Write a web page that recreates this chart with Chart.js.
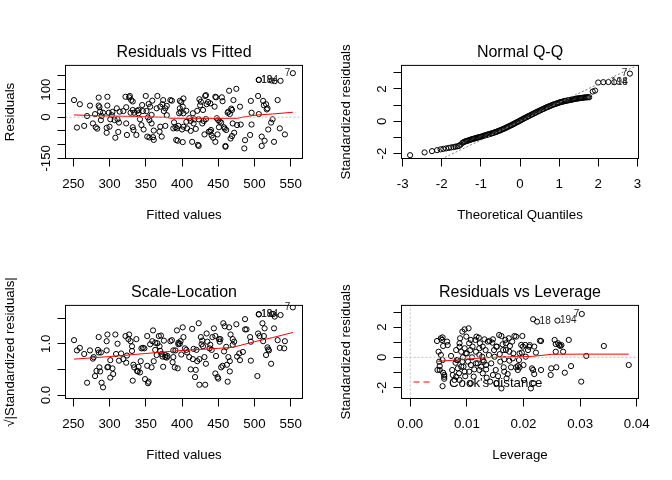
<!DOCTYPE html>
<html><head><meta charset="utf-8">
<script src="https://cdn.jsdelivr.net/npm/chart.js@4.4.1/dist/chart.umd.min.js"></script>
<style>
html,body{margin:0;padding:0;background:#fff;}
#wrap{position:relative;width:672px;height:480px;background:#fff;}
canvas{position:absolute;}
</style></head><body>
<div id="wrap">
<canvas id="c1" width="336" height="240" style="left:0;top:0"></canvas>
<canvas id="c2" width="336" height="240" style="left:336px;top:0"></canvas>
<canvas id="c3" width="336" height="240" style="left:0;top:240px"></canvas>
<canvas id="c4" width="336" height="240" style="left:336px;top:240px"></canvas>
</div>
<script>
// ---------- data ----------
const fitted1 = [251,255,259,265,269,273,277,280,281,283,285,285,286,287,288,289,291,296,296,297,297,299,301,303,304,307,308,310,311,312,313,319,322,323,323,324,327,328,330,332,332,332,333,334,337,338,340,342,345,346,347,350,351,352,353,354,355,358,359,360,361,365,366,369,370,372,373,374,375,377,377,379,379,384,386,388,389,391,392,394,395,397,397,398,399,400,401,402,402,406,407,410,412,414,415,416,417,419,421,422,423,423,424,425,426,428,429,430,431,433,433,434,436,437,439,440,441,443,445,446,447,448,449,450,451,454,455,456,458,459,460,460,461,464,465,466,467,468,469,469,471,472,475,476,480,481,486,487,494,495,496,505,506,506,506,510,510,512,514,516,517,518,519,523,524,527,528,532,536,535,542,553,
300,314,329,340,344,355,356,358,361,370,393,396,401,402,406,412,432,439,446,452,463,470,496,513,525];
const resid1 = [62,-38,47,-32,4,42,-23,11,-37,-42,71,42,36,20,-11,4,16,-39,-57,74,42,16,-8,7,19,-11,-75,32,-8,-54,-20,22,74,36,-23,-65,72,77,62,57,26,-37,-47,16,-65,23,14,-8,44,22,-45,77,22,-71,-1,48,-11,-23,60,-73,-49,32,77,-53,38,-71,47,62,22,-32,32,41,7,62,60,-41,-19,-37,-83,-86,-32,59,32,19,55,-45,-91,68,14,23,-41,-4,-14,-90,14,-23,-8,-43,23,-101,-105,-8,65,43,56,-23,26,-14,-63,80,-7,47,55,-53,50,-47,-67,-75,38,-90,72,-4,-63,-11,-37,-20,72,58,-37,-42,-105,-108,-47,20,96,11,-78,31,26,-69,62,-57,103,-29,38,-27,-114,-84,-65,59,-27,77,136,135,11,-71,-105,59,-86,47,28,32,-45,-20,133,-90,131,62,132,-41,-63,160,
-35,20,16,26,-29,-74,38,8,-83,-35,-41,14,38,-35,-17,-50,77,-53,74,-16,16,-23,16,43,-8];
const smooth1X = [251,287,342,379,383,405,440,476,488,504,525,553];
const smooth1Y = [8,4.5,2,-0.7,-4,-4.2,-4.5,-4.2,1.7,7.8,11.5,17.7];

const qqTheo = [-2.81,-2.44,-2.25,-2.12,-2.03,-1.96,-1.89,-1.82,-1.76,-1.70,-1.65,-1.60,-1.56,-1.52,
-1.47,-1.44,-1.41,-1.38,-1.35,-1.32,-1.29,-1.26,-1.23,-1.20,-1.17,-1.14,-1.11,-1.08,-1.05,-1.02,-0.99,-0.96,-0.93,-0.90,-0.87,-0.84,-0.81,-0.78,-0.75,-0.72,-0.69,-0.66,-0.63,-0.60,-0.57,-0.54,-0.51,-0.48,-0.45,-0.42,-0.39,-0.36,-0.33,-0.30,-0.27,-0.24,-0.21,-0.18,-0.15,-0.12,-0.09,-0.06,-0.03,0.00,0.03,0.06,0.09,0.12,0.15,0.18,0.21,0.24,0.27,0.30,0.33,0.36,0.39,0.42,0.45,0.48,0.51,0.54,0.57,0.60,0.63,0.66,0.69,0.72,0.75,0.78,0.81,0.84,0.87,0.90,0.93,0.96,0.99,1.02,1.05,1.08,1.11,1.14,1.17,1.20,1.23,1.26,1.29,1.32,1.35,1.38,1.41,1.44,1.47,1.50,1.53,1.56,1.59,1.62,1.65,1.68,1.71,1.74,1.77,
1.86,1.92,2.00,2.13,2.26,2.41,2.81];
const qqStd = [-2.10,-1.93,-1.85,-1.79,-1.74,-1.71,-1.68,-1.65,-1.62,-1.60,-1.57,-1.55,-1.52,-1.45,
-1.33,-1.30,-1.26,-1.23,-1.21,-1.19,-1.16,-1.14,-1.11,-1.09,-1.07,-1.05,-1.03,-1.01,-0.99,-0.97,-0.95,-0.93,-0.90,-0.88,-0.86,-0.83,-0.81,-0.79,-0.77,-0.75,-0.72,-0.70,-0.67,-0.65,-0.62,-0.59,-0.57,-0.53,-0.50,-0.47,-0.44,-0.40,-0.37,-0.33,-0.30,-0.26,-0.23,-0.19,-0.15,-0.11,-0.07,-0.04,0.00,0.04,0.08,0.12,0.16,0.20,0.23,0.27,0.31,0.34,0.38,0.42,0.45,0.49,0.53,0.56,0.60,0.63,0.67,0.70,0.74,0.77,0.80,0.84,0.87,0.90,0.93,0.96,0.99,1.02,1.05,1.07,1.10,1.12,1.15,1.17,1.19,1.21,1.23,1.25,1.26,1.28,1.29,1.31,1.32,1.34,1.35,1.37,1.38,1.40,1.41,1.42,1.43,1.44,1.45,1.46,1.47,1.48,1.48,1.49,1.49,
1.84,1.90,2.40,2.42,2.43,2.42,2.95];
const qqLineX = [-3.03,3.03];
const qqLineY = [-3.52,3.50];

const fitted3 = [251,255,259,265,269,273,277,280,282,284,285,285,286,287,288,289,291,296,296,297,297,301,304,305,308,309,311,313,319,322,323,324,326,327,329,331,331,332,333,334,337,338,339,342,343,346,348,349,352,352,353,354,356,358,359,360,361,363,365,368,369,370,371,372,373,374,375,377,379,384,386,387,388,390,391,393,394,395,397,398,399,401,402,404,406,407,410,412,414,415,418,419,420,421,423,424,424,426,427,428,429,431,432,433,434,435,438,439,441,442,444,446,446,447,449,450,451,452,454,456,457,458,459,461,462,463,464,465,466,466,467,470,472,475,476,479,480,487,487,494,495,495,504,505,506,506,511,512,514,516,518,519,520,523,524,526,527,528,532,536,535,542,553,
278,298,301,316,340,344,363,366,377,380,388,395,416,453,470,484,489,507,513,541];
const sqrtStd3 = [1.07,0.87,0.92,0.80,0.24,0.87,0.71,0.37,0.47,0.88,0.83,1.13,0.54,0.46,0.83,0.24,0.15,0.87,1.05,0.54,1.18,0.34,0.52,0.41,1.18,0.80,1.00,0.67,0.70,1.15,0.63,0.77,1.09,1.18,1.05,0.95,0.86,0.28,0.59,0.54,1.09,0.47,0.46,0.44,0.66,0.92,0.91,0.31,0.57,1.15,0.23,0.26,0.99,0.54,1.05,1.26,0.66,1.02,0.78,1.15,0.95,0.86,1.16,0.80,0.75,0.55,1.06,0.74,0.73,1.05,1.07,0.64,0.87,0.54,0.87,1.26,0.52,1.02,1.00,1.05,0.79,1.32,1.13,0.91,0.88,0.83,0.74,0.50,1.29,0.70,0.35,0.49,0.88,0.66,1.40,0.70,0.20,1.13,0.99,1.06,0.95,0.74,0.20,0.61,1.20,1.04,0.91,0.98,0.88,1.13,1.30,1.15,0.42,0.76,0.35,0.32,1.09,1.04,0.54,0.57,1.40,0.85,1.34,0.94,0.59,0.26,0.74,1.32,0.46,0.66,1.18,1.09,1.04,1.38,0.75,0.81,0.68,1.48,1.28,1.13,0.67,1.04,0.37,1.20,1.58,1.57,1.40,1.05,1.30,0.78,0.93,0.89,0.87,0.61,1.58,1.58,1.30,1.53,1.07,1.56,0.92,1.05,1.71,
0.74,0.55,0.68,0.81,0.55,0.91,0.88,1.01,0.78,0.76,0.74,0.99,0.90,1.09,0.98,0.84,1.28,1.15,1.15,0.91];
const smooth3X = [251,300,350,400,450,470,500,525,553];
const smooth3Y = [0.70,0.75,0.81,0.87,0.91,0.93,1.04,1.12,1.22];

const lev4 = [0.00472,0.0050,0.0051,0.0048,0.0052,0.0056,0.0057,0.0058,0.0057,0.0058,0.0060,0.0057,0.0060,0.0065,0.0066,0.0072,0.0074,0.0075,0.0078,0.0080,0.0081,0.0082,0.0084,0.0086,0.0087,0.0088,0.0090,0.0092,0.0092,0.0093,0.0094,0.0096,0.0096,0.0097,0.0099,0.0100,0.0102,0.0103,0.0104,0.0104,0.0106,0.0107,0.0107,0.0109,0.0110,0.0112,0.0113,0.0115,0.0116,0.0117,0.0119,0.0121,0.0122,0.0122,0.0123,0.0125,0.0127,0.0128,0.0128,0.0130,0.0131,0.0133,0.0134,0.0135,0.0137,0.0139,0.0140,0.0141,0.0143,0.0145,0.0146,0.0148,0.0149,0.0151,0.0152,0.0153,0.0155,0.0157,0.0158,0.0159,0.0161,0.0161,0.0163,0.0164,0.0165,0.0166,0.0166,0.0168,0.0169,0.0170,0.0172,0.0174,0.0175,0.0175,0.0176,0.0178,0.0180,0.0181,0.0182,0.0184,0.0187,0.0187,0.0190,0.0192,0.0193,0.0196,0.0197,0.0198,0.0199,0.0200,0.0201,0.0204,0.0208,0.0211,0.0213,0.0215,0.0217,0.0218,0.0219,0.0217,0.0224,0.0222,0.0231,0.0231,0.0248,0.0249,0.0255,0.0257,0.0258,0.0260,0.0261,0.0265,0.0267,0.0270,0.0273,0.0280,0.0284,0.0302,0.0303,0.0311,0.0342,0.0386,0.0203,0.0210,0.0229,0.0257,0.0263,0.0219,
0.0054,0.0054,0.0052,0.0060,0.0087,0.0098,0.0084,0.0090,0.0096,0.0081,0.0087,0.0122,0.0128,0.0134,0.0146,0.0116,0.0107,0.0152,0.0169,0.0193,0.0190];
const std4 = [1.08,0.37,-0.29,-0.84,-0.58,1.15,1.32,0.75,-0.18,-1.02,-1.29,-1.91,-1.42,1.04,0.81,0.09,-0.84,-1.17,-1.50,-0.36,0.48,-0.18,-0.73,-1.06,0.93,1.26,0.37,1.70,-0.29,0.00,-0.62,1.85,0.60,-1.25,1.37,0.26,-0.29,1.92,0.93,-0.95,0.48,1.15,-0.51,0.00,0.71,-1.28,-0.80,1.15,0.37,1.37,-0.40,1.30,0.60,-0.84,0.93,-0.62,0.04,0.71,-1.06,-0.29,1.19,0.48,-0.80,-1.35,1.04,0.15,1.08,-1.61,-0.40,0.97,1.19,0.48,0.04,-0.84,-1.72,0.71,-1.25,1.48,0.21,-0.29,1.41,-2.06,0.86,0.48,-0.66,-0.95,-0.13,1.15,0.93,-1.39,-1.11,1.26,0.37,-0.22,0.75,-0.66,1.04,-0.07,0.26,1.41,1.37,-0.66,-0.58,-0.18,-0.66,0.82,0.31,1.41,0.71,-0.51,-1.50,0.04,0.48,0.81,-2.06,-0.73,-0.84,-1.72,0.71,2.52,2.36,0.31,1.08,-0.84,-1.17,-0.73,1.15,0.37,-0.66,2.43,0.93,0.75,0.81,0.37,-1.02,1.15,-0.58,-1.61,2.87,0.09,0.75,-0.51,0.82,0.70,1.10,0.88,0.82,-1.11,
1.26,0.16,-0.84,-1.17,0.70,0.26,-0.18,-0.62,-0.95,-1.28,-1.50,0.16,-0.18,-0.51,-1.17,-0.40,-1.72,0.70,0.48,0.26,-0.84];
const smooth4X = [0.0048,0.0065,0.0081,0.0100,0.0116,0.0135,0.0151,0.0175,0.0197,0.0215,0.0250,0.0300,0.0386];
const smooth4Y = [-0.27,-0.22,-0.18,-0.12,-0.07,-0.03,0.00,0.03,0.05,0.06,0.20,0.21,0.21];

const xTicks1 = [250,300,350,400,450,500,550];
const xTickLabels1 = ['250','300','350','400','450','500','550'];
const yTicks1 = [-150,-100,-50,0,50,100,150];
const yTickLabels1 = [[-150,'-150'],[0,'0'],[100,'100']];
const xTicks2 = [-3,-2,-1,0,1,2,3];
const xTickLabels2 = ['-3','-2','-1','0','1','2','3'];
const yTicks2 = [-2,-1,0,1,2,3];
const yTickLabels2 = [[-2,'-2'],[0,'0'],[2,'2']];
const yTicks3 = [0,0.5,1,1.5];
const yTickLabels3 = [[0,'0.0'],[1,'1.0']];
const xTicks4 = [0,0.01,0.02,0.03,0.04];
const xTickLabels4 = ['0.00','0.01','0.02','0.03','0.04'];
const yTicks4 = [-2,-1,0,1,2,3];
const yTickLabels4 = [[-2,'-2'],[0,'0'],[2,'2']];

// ---------- helpers ----------
const FONT = "'Liberation Sans', Arial, sans-serif";
const pts = (xs, ys) => xs.map((x, i) => ({x: x, y: ys[i]}));

const rPlugin = {
  id: 'rstyle',
  afterDraw(chart) {
    const o = chart.options.plugins.rstyle;
    const ctx = chart.ctx, a = chart.chartArea;
    const xs = chart.scales.x, ys = chart.scales.y;
    ctx.save();
    ctx.strokeStyle = '#000'; ctx.lineWidth = 1; ctx.setLineDash([]);
    ctx.strokeRect(a.left, a.top, a.right - a.left, a.bottom - a.top);
    ctx.fillStyle = '#000';
    ctx.font = '13.3px ' + FONT;
    ctx.textAlign = 'center'; ctx.textBaseline = 'middle';
    o.yLabels.forEach(function (p) {
      ctx.save();
      ctx.translate(a.left - 19.5, ys.getPixelForValue(p[0]));
      ctx.rotate(-Math.PI / 2);
      ctx.fillText(p[1], 0, 0);
      ctx.restore();
    });
    ctx.font = '10px ' + FONT;
    ctx.fillStyle = '#222';
    (o.ids || []).forEach(function (p) {
      const px = xs.getPixelForValue(p.x), py = ys.getPixelForValue(p.y);
      if (p.pos === 'l') { ctx.textAlign = 'right'; ctx.fillText(p.t, px - 2.5, py); }
      else { ctx.textAlign = 'left'; ctx.fillText(p.t, px + 2.5, py); }
    });
    if (o.cook) {
      ctx.strokeStyle = '#FF0000'; ctx.setLineDash([6, 4]);
      ctx.beginPath(); ctx.moveTo(a.left + 12, a.bottom - 16.5); ctx.lineTo(a.left + 32, a.bottom - 16.5); ctx.stroke();
      ctx.setLineDash([]);
      ctx.fillStyle = '#000'; ctx.font = '13.3px ' + FONT; ctx.textAlign = 'left';
      ctx.fillText("Cook's distance", a.left + 47.5, a.bottom - 15);
    }
    ctx.restore();
  }
};

function makeChart(id, c) {
  const datasets = [];
  (c.lines || []).forEach(function (l, i) {
    datasets.push({type: 'scatter', data: l.data, showLine: true, borderColor: l.color, borderWidth: 1,
      borderDash: l.dash || [], pointRadius: 0, tension: 0, order: i, fill: false});
  });
  datasets.push({type: 'scatter', data: c.points, pointStyle: 'circle', pointRadius: 2.6, borderWidth: 1,
    borderColor: '#000', backgroundColor: 'rgba(0,0,0,0)', order: 10});
  return new Chart(document.getElementById(id), {
    type: 'scatter',
    data: {datasets: datasets},
    options: {
      responsive: false, animation: false, events: [], devicePixelRatio: 1,
      layout: {padding: {left: 0, right: 33.5, top: 0, bottom: 0}, autoPadding: false},
      plugins: {
        legend: {display: false}, tooltip: {enabled: false},
        title: {display: true, text: c.title, fullSize: false, color: '#000',
          font: {family: FONT, size: 16, weight: 'normal', lineHeight: 1.2}, padding: {top: 43.1, bottom: 3.1}},
        rstyle: {yLabels: c.yLabels, ids: c.ids, cook: c.cook}
      },
      scales: {
        x: {type: 'linear', position: 'bottom', min: c.xMin, max: c.xMax,
          afterBuildTicks: function (s) { s.ticks = c.xTicks.map(function (v) { return {value: v}; }); },
          afterFit: function (s) { s.height = 81.5; },
          grid: {display: true, drawOnChartArea: false, drawTicks: true, tickLength: 8, tickColor: '#000', tickWidth: 1},
          border: {display: false},
          ticks: {color: '#000', font: {family: FONT, size: 13.3}, padding: 9.8, maxRotation: 0, minRotation: 0, autoSkip: false,
            callback: function (v, i) { return c.xTickLabels[i]; }},
          title: {display: true, text: c.xTitle, color: '#000', font: {family: FONT, size: 13.3}, padding: {top: 0, bottom: 17}}
        },
        y: {type: 'linear', position: 'left', min: c.yMin, max: c.yMax,
          afterBuildTicks: function (s) { s.ticks = c.yTicks.map(function (v) { return {value: v}; }); },
          afterFit: function (s) { s.width = 65.5; },
          grid: {display: true, drawOnChartArea: false, drawTicks: true, tickLength: 8, tickColor: '#000', tickWidth: 1},
          border: {display: false},
          ticks: {display: false},
          title: {display: true, text: c.yTitle, color: '#000', font: {family: FONT, size: 13.3}, padding: {top: 2, bottom: 0}}
        }
      }
    },
    plugins: [rPlugin]
  });
}

makeChart('c1', {
  title: 'Residuals vs Fitted', xTitle: 'Fitted values', yTitle: 'Residuals',
  xMin: 239.2, xMax: 566.3, yMin: -150.7, yMax: 188.3,
  xTicks: xTicks1, xTickLabels: xTickLabels1, yTicks: yTicks1, yLabels: yTickLabels1,
  points: pts(fitted1, resid1),
  lines: [{data: pts([239.2, 566.3], [0, 0]), color: '#BEBEBE', dash: [2, 2]},
          {data: pts(smooth1X, smooth1Y), color: '#FF0000'}],
  ids: [{x: 553, y: 160, t: '7', pos: 'l'}, {x: 506, y: 136, t: '194', pos: 'r'}, {x: 506, y: 135, t: '18', pos: 'r'}]
});

makeChart('c2', {
  title: 'Normal Q-Q', xTitle: 'Theoretical Quantiles', yTitle: 'Standardized residuals',
  xMin: -3.03, xMax: 3.03, yMin: -2.306, yMax: 3.459,
  xTicks: xTicks2, xTickLabels: xTickLabels2, yTicks: yTicks2, yLabels: yTickLabels2,
  points: pts(qqTheo, qqStd),
  lines: [{data: pts(qqLineX, qqLineY), color: '#7F7F7F', dash: [2, 2]}],
  ids: [{x: 2.81, y: 2.95, t: '7', pos: 'l'}, {x: 2.26, y: 2.43, t: '194', pos: 'r'}, {x: 2.41, y: 2.42, t: '18', pos: 'r'}]
});

makeChart('c3', {
  title: 'Scale-Location', xTitle: 'Fitted values', yTitle: '\u221A|Standardized residuals|',
  xMin: 239.2, xMax: 566.3, yMin: -0.068, yMax: 1.748,
  xTicks: xTicks1, xTickLabels: xTickLabels1, yTicks: yTicks3, yLabels: yTickLabels3,
  points: pts(fitted3, sqrtStd3),
  lines: [{data: pts(smooth3X, smooth3Y), color: '#FF0000'}],
  ids: [{x: 553, y: 1.71, t: '7', pos: 'l'}, {x: 506, y: 1.58, t: '194', pos: 'r'}, {x: 506, y: 1.57, t: '18', pos: 'r'}]
});

makeChart('c4', {
  title: 'Residuals vs Leverage', xTitle: 'Leverage', yTitle: 'Standardized residuals',
  xMin: -0.001555, xMax: 0.04032, yMin: -2.727, yMax: 3.437,
  xTicks: xTicks4, xTickLabels: xTickLabels4, yTicks: yTicks4, yLabels: yTickLabels4,
  points: pts(lev4, std4),
  lines: [{data: pts([-0.001555, 0.04032], [0, 0]), color: '#BEBEBE', dash: [2, 2]},
          {data: pts([0, 0], [-2.727, 3.437]), color: '#BEBEBE', dash: [2, 2]},
          {data: pts(smooth4X, smooth4Y), color: '#FF0000'}],
  ids: [{x: 0.0303, y: 2.87, t: '7', pos: 'l'}, {x: 0.0224, y: 2.36, t: '18', pos: 'r'}, {x: 0.0260, y: 2.43, t: '194', pos: 'r'}],
  cook: true
});
</script>
</body></html>
